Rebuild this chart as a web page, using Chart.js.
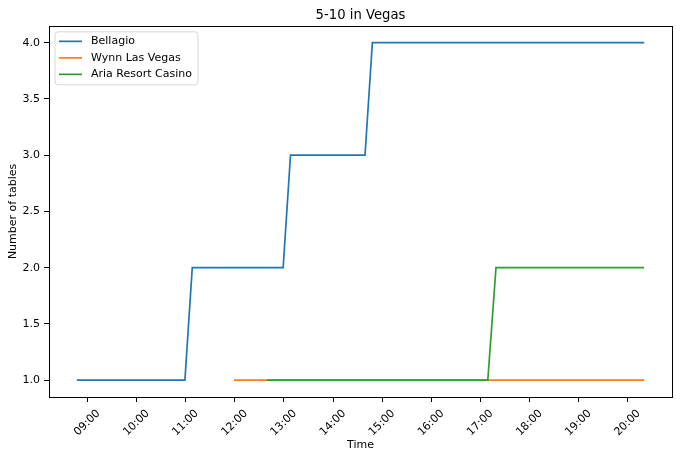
<!DOCTYPE html>
<html><head><meta charset="utf-8">
<script src="https://cdn.jsdelivr.net/npm/chart.js@4/dist/chart.umd.min.js"></script>
<style>html,body{margin:0;padding:0;background:#fff}#wrap{width:680px;height:459px}</style>
</head><body><div id="wrap"><canvas id="c" width="680" height="459"></canvas></div>
<script>
const chartTitle = '5-10 in Vegas';
const xAxisTitle = 'Time';
const yAxisTitle = 'Number of tables';
const seriesNames = ['Bellagio', 'Wynn Las Vegas', 'Aria Resort Casino'];
const seriesColors = ['#1f77b4', '#ff7f0e', '#2ca02c'];

const bellagioTimes  = ['08:47', '10:59', '11:08', '12:59', '13:08', '14:39', '14:48', '20:20'];
const bellagioValues = [1, 1, 2, 2, 3, 3, 4, 4];
const wynnTimes  = ['11:59', '20:20'];
const wynnValues = [1, 1];
const ariaTimes  = ['12:39', '17:09', '17:19', '20:20'];
const ariaValues = [1, 1, 2, 2];

const xTickLabels = ['09:00','10:00','11:00','12:00','13:00','14:00','15:00','16:00','17:00','18:00','19:00','20:00'];
const yTickValues = [1.0, 1.5, 2.0, 2.5, 3.0, 3.5, 4.0];
const xRange = ['08:13', '20:54'];
const yRange = [0.85, 4.15];

function toMin(s){ const p = s.split(':'); return (+p[0]) * 60 + (+p[1]); }
function fmt(m){ const h = Math.floor(m / 60), mm = Math.round(m - h * 60); return String(h).padStart(2,'0') + ':' + String(mm).padStart(2,'0'); }
function pts(times, vals){ return times.map((t, i) => ({x: toMin(t), y: vals[i]})); }

const FONT = 'DejaVu Sans';
const seriesData = [pts(bellagioTimes, bellagioValues), pts(wynnTimes, wynnValues), pts(ariaTimes, ariaValues)];

const frameAndLegend = {
  id: 'frameAndLegend',
  afterDraw(chart){
    const ctx = chart.ctx, a = chart.chartArea;
    ctx.save();
    ctx.strokeStyle = '#000'; ctx.lineWidth = 1;
    ctx.strokeRect(Math.round(a.left) + 0.5, Math.round(a.top) + 0.5, Math.round(a.right - a.left), Math.round(a.bottom - a.top));
    // legend
    const bx = a.left + 6, by = a.top + 6, bw = 143, bh = 53, r = 3;
    ctx.beginPath();
    ctx.moveTo(bx + r, by); ctx.lineTo(bx + bw - r, by); ctx.arcTo(bx + bw, by, bx + bw, by + r, r);
    ctx.lineTo(bx + bw, by + bh - r); ctx.arcTo(bx + bw, by + bh, bx + bw - r, by + bh, r);
    ctx.lineTo(bx + r, by + bh); ctx.arcTo(bx, by + bh, bx, by + bh - r, r);
    ctx.lineTo(bx, by + r); ctx.arcTo(bx, by, bx + r, by, r); ctx.closePath();
    ctx.fillStyle = 'rgba(255,255,255,0.8)'; ctx.fill();
    ctx.strokeStyle = '#d6d6d6'; ctx.lineWidth = 1; ctx.stroke();
    ctx.font = '11px "' + FONT + '"';
    ctx.textBaseline = 'middle'; ctx.textAlign = 'left';
    chart.data.datasets.forEach((ds, i) => {
      const y = by + 9.5 + i * 16.5;
      ctx.strokeStyle = ds.borderColor; ctx.lineWidth = 1.7;
      ctx.beginPath(); ctx.moveTo(bx + 4, y); ctx.lineTo(bx + 27, y); ctx.stroke();
      ctx.fillStyle = '#000';
      ctx.fillText(ds.label, bx + 36, y);
    });
    ctx.restore();
  }
};

new Chart(document.getElementById('c'), {
  type: 'line',
  data: {
    datasets: seriesNames.map((n, i) => ({
      label: n, data: seriesData[i], borderColor: seriesColors[i], backgroundColor: seriesColors[i],
      borderWidth: 1.7, pointRadius: 0, tension: 0, fill: false, order: seriesNames.length - i
    }))
  },
  options: {
    responsive: false, animation: false, devicePixelRatio: 1,
    layout: { padding: { top: 0, right: 8, bottom: 0, left: 0 } },
    plugins: {
      legend: { display: false },
      tooltip: { enabled: false },
      title: { display: true, text: chartTitle, fullSize: false, color: '#000',
        font: { family: FONT, size: 13.2, weight: 'normal' }, padding: { top: 8, bottom: 2 } }
    },
    scales: {
      x: {
        type: 'linear', min: toMin(xRange[0]), max: toMin(xRange[1]),
        afterBuildTicks(s){ s.ticks = xTickLabels.map(t => ({ value: toMin(t) })); },
        afterFit(s){ s.height = 62; },
        ticks: { callback: v => fmt(v), minRotation: 45, maxRotation: 45, autoSkip: false, color: '#000',
          font: { family: FONT, size: 11 }, padding: 5, labelOffset: 11 },
        grid: { display: true, drawOnChartArea: false, drawTicks: true, tickLength: 5, color: '#000', lineWidth: 1 },
        border: { display: false },
        title: { display: true, text: xAxisTitle, color: '#000', font: { family: FONT, size: 11 }, padding: { top: 0, bottom: 7.4 } }
      },
      y: {
        type: 'linear', min: yRange[0], max: yRange[1],
        afterBuildTicks(s){ s.ticks = yTickValues.map(v => ({ value: v })); },
        afterFit(s){ s.width = 49; },
        ticks: { callback: v => Number(v).toFixed(1), color: '#000', font: { family: FONT, size: 11 }, padding: 4 },
        grid: { display: true, drawOnChartArea: false, drawTicks: true, tickLength: 5, color: '#000', lineWidth: 1 },
        border: { display: false },
        title: { display: true, text: yAxisTitle, color: '#000', font: { family: FONT, size: 11 }, padding: { top: 6.7, bottom: 0 } }
      }
    }
  },
  plugins: [frameAndLegend]
});
</script></body></html>
